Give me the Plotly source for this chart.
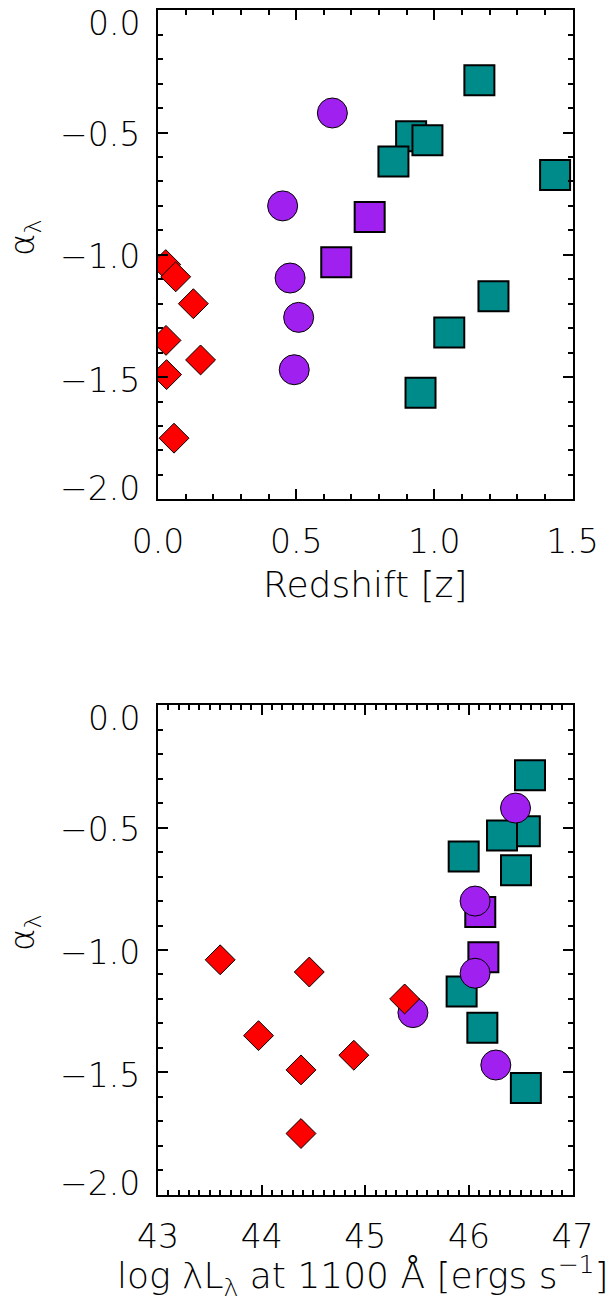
import plotly.graph_objects as go

# ---------------- data ----------------
red_z = [0.028, 0.064, 0.128, 0.029, 0.154, 0.031, 0.058]
red_L = [43.60, 44.46, 45.38, 43.97, 44.89, 44.38, 44.38]
red_a = [-1.04, -1.09, -1.20, -1.35, -1.43, -1.49, -1.75]

pc_z = [0.631, 0.451, 0.478, 0.509, 0.493]
pc_L = [46.45, 46.06, 46.06, 45.46, 46.26]
pc_a = [-0.42, -0.80, -1.095, -1.256, -1.47]

ps_z = [0.766, 0.645]
ps_L = [46.11, 46.14]
ps_a = [-0.845, -1.03]

ts_z = [1.163, 0.916, 0.975, 0.852, 1.437, 1.214, 1.054, 0.950]
ts_L = [46.59, 46.54, 46.32, 45.95, 46.455, 45.93, 46.13, 46.55]
ts_a = [-0.286, -0.515, -0.532, -0.618, -0.674, -1.17, -1.318, -1.564]

x1_ticks = [0.0, 0.5, 1.0, 1.5]
x1_labels = ["0.0", "0.5", "1.0", "1.5"]
x2_ticks = [43, 44, 45, 46, 47]
x2_labels = ["43", "44", "45", "46", "47"]
y_ticks = [0.0, -0.5, -1.0, -1.5, -2.0]
y_labels = ["0.0", "\u22120.5", "\u22121.0", "\u22121.5", "\u22122.0"]
y_label_shift = [-13, -2, -2, -3, 11]

# ---------------- styling ----------------
W, H = 615, 1300
FONT = "DejaVu Sans"
TEAL = "#008B8B"
PURPLE = "#A020F0"
RED = "#FF0000"
TICK_SIZE = 33

fig = go.Figure()


def add_group(xs, ys, symbol, color, size, lw, xa, ya):
    fig.add_trace(go.Scatter(
        x=xs, y=ys, mode="markers", xaxis=xa, yaxis=ya,
        marker=dict(symbol=symbol, color=color, size=size,
                    line=dict(color="black", width=lw)),
        showlegend=False, hoverinfo="skip"))


for xa, ya, zs in [("x", "y", 0), ("x2", "y2", 1)]:
    pick = (lambda z, L: z) if zs == 0 else (lambda z, L: L)
    add_group(pick(ts_z, ts_L), ts_a, "square", TEAL, 30, 2, xa, ya)
    add_group(pick(ps_z, ps_L), ps_a, "square", PURPLE, 30, 2, xa, ya)
    add_group(pick(pc_z, pc_L), pc_a, "circle", PURPLE, 30, 1, xa, ya)
    add_group(pick(red_z, red_L), red_a, "diamond", RED, 23, 1, xa, ya)

x_dom = [158 / W, 572.5 / W]
y1_dom = [1 - 499.3 / H, 1 - 10.3 / H]
y2_dom = [1 - 1194.7 / H, 1 - 705.3 / H]

common = dict(showline=True, linecolor="black", linewidth=2, mirror="allticks",
              ticks="inside", tickcolor="black", tickwidth=2, ticklen=10,
              showgrid=False, zeroline=False, automargin=False,
              tickfont=dict(family=FONT, size=TICK_SIZE, color="black", weight=200))
minor = dict(ticks="inside", ticklen=5, tickwidth=2, tickcolor="black",
             dtick=0.1, showgrid=False)

fig.update_layout(
    width=W, height=H, margin=dict(l=0, r=0, t=0, b=0),
    paper_bgcolor="white", plot_bgcolor="white",
    font=dict(family=FONT, color="black"),
    xaxis=dict(common, domain=x_dom, anchor="y", range=[0, 1.5],
               tickvals=x1_ticks, ticktext=x1_labels, minor=minor,
               ticklabelstandoff=12),
    yaxis=dict(common, domain=y1_dom, anchor="x", range=[-2, 0],
               tickvals=y_ticks, showticklabels=False, minor=minor),
    xaxis2=dict(common, domain=x_dom, anchor="y2", range=[43, 47],
                tickvals=x2_ticks, ticktext=x2_labels, minor=minor,
                ticklabelstandoff=12),
    yaxis2=dict(common, domain=y2_dom, anchor="x2", range=[-2, 0],
                tickvals=y_ticks, showticklabels=False, minor=minor),
)

ann = []
for yref in ["y", "y2"]:
    for v, t, s in zip(y_ticks, y_labels, y_label_shift):
        ann.append(dict(xref="paper", yref=yref, x=142 / W, y=v, text=t,
                        xanchor="right", yanchor="middle", yshift=s,
                        showarrow=False,
                        font=dict(family=FONT, size=TICK_SIZE, weight=200)))

# y titles
for yc in [238, 933]:
    ann.append(dict(xref="paper", yref="paper", x=24 / W, y=1 - yc / H,
                    text="\u03b1<sub>\u03bb</sub>", textangle=-90,
                    xanchor="center", yanchor="middle", showarrow=False,
                    font=dict(family=FONT, size=34, weight=200)))

ann.append(dict(xref="paper", yref="paper", x=365 / W, y=1 - 585 / H,
                text="Redshift [z]", xanchor="center", yanchor="middle",
                showarrow=False, font=dict(family=FONT, size=36, weight=200)))
ann.append(dict(xref="paper", yref="paper", x=363 / W, y=1 - 1276 / H,
                text="log \u03bbL<sub>\u03bb</sub> at 1100 \u00c5 [ergs s<sup>\u22121</sup>]",
                xanchor="center", yanchor="middle",
                showarrow=False, font=dict(family=FONT, size=36, weight=200)))

fig.update_layout(annotations=ann)
fig.write_html("out.html")
